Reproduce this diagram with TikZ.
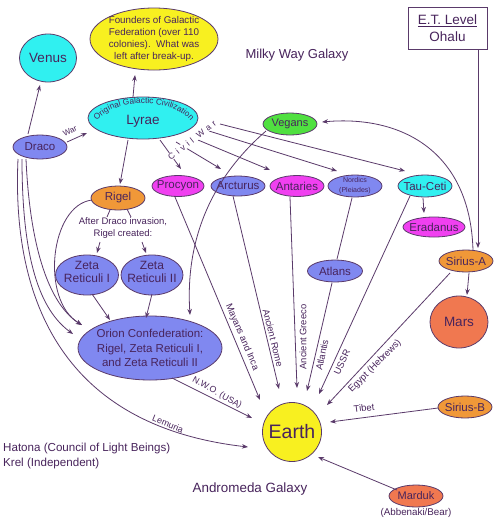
\documentclass[tikz,border=0pt]{standalone}
\usepackage{fontspec}
\setmainfont{Liberation Sans}
\usetikzlibrary{shapes.geometric,arrows.meta,calc,decorations.text}
\definecolor{txt}{RGB}{72,36,92}
\definecolor{edg}{RGB}{90,58,106}
\definecolor{cyanc}{RGB}{48,240,240}
\definecolor{yelc}{RGB}{248,240,32}
\definecolor{bluec}{RGB}{128,136,240}
\definecolor{magc}{RGB}{240,64,240}
\definecolor{greenc}{RGB}{80,224,64}
\definecolor{orangec}{RGB}{240,152,56}
\definecolor{marsc}{RGB}{240,120,80}
\begin{document}
\begin{tikzpicture}[x=1pt,y=-1pt,
  oval/.style={ellipse, draw=edg, line width=0.8pt, inner sep=0pt},
  nm/.style={text=txt, font=\fontsize{11.5}{13.5}\selectfont, align=center, inner sep=0pt},
  conn/.style={draw=edg, line width=0.8pt, -{Stealth[length=6pt,width=4.5pt]}},
  plainln/.style={draw=edg, line width=0.8pt},
  elbl/.style={text=txt, font=\fontsize{9.4}{10}\selectfont, inner sep=0pt},
  free/.style={text=txt, inner sep=0pt}]
\useasboundingbox (0,0) rectangle (500,523);
\fill[white] (0,0) rectangle (500,523);

% ---------- nodes ----------
\node[oval, fill=yelc, minimum width=128pt, minimum height=62pt,
  label={[nm, font=\fontsize{9.8}{12}\selectfont]center:{Founders of Galactic\\Federation (over 110\\colonies).~~What was\\left after break-up.}}] (founders) at (154,39) {};
\node[oval, fill=cyanc, minimum width=57pt, minimum height=48pt,
  label={[nm, font=\fontsize{13.5}{15}\selectfont]center:Venus}] (venus) at (48,58) {};
\node[free, font=\fontsize{13}{15}\selectfont] (milky) at (297,55) {Milky Way Galaxy};
\node[draw=edg, line width=0.8pt, minimum width=79pt, minimum height=42pt, inner sep=0pt,
  text=txt, align=center, font=\fontsize{13.5}{17}\selectfont] (et) at (447.5,28) {\underline{E.T. Level}\\Ohalu};
\node[oval, fill=cyanc, minimum width=110pt, minimum height=42pt,
  label={[nm, font=\fontsize{13.5}{15}\selectfont, yshift=-3pt]center:Lyrae}] (lyrae) at (143,118) {};
\node[oval, fill=bluec, minimum width=54pt, minimum height=24pt,
  label={[nm]center:Draco}] (draco) at (40,147) {};
\node[oval, fill=greenc, minimum width=54pt, minimum height=22pt,
  label={[nm, font=\fontsize{11}{13}\selectfont]center:Vegans}] (vegans) at (290,124) {};
\node[oval, fill=orangec, minimum width=54pt, minimum height=24pt,
  label={[nm]center:Rigel}] (rigel) at (118,198) {};
\node[oval, fill=magc, minimum width=52pt, minimum height=21pt,
  label={[nm]center:Procyon}] (procyon) at (178,186) {};
\node[oval, fill=bluec, minimum width=54pt, minimum height=20pt,
  label={[nm]center:Arcturus}] (arcturus) at (238,186) {};
\node[oval, fill=magc, minimum width=54pt, minimum height=21pt,
  label={[nm]center:Antaries}] (antaries) at (297,186) {};
\node[oval, fill=bluec, minimum width=54pt, minimum height=22pt,
  label={[nm, font=\fontsize{7}{10}\selectfont]center:{Nordics\\(Pleiades)}}] (nordics) at (355,186) {};
\node[oval, fill=cyanc, minimum width=54pt, minimum height=22pt,
  label={[nm]center:Tau-Ceti}] (tauceti) at (425,186) {};
\node[oval, fill=magc, minimum width=62pt, minimum height=20pt,
  label={[nm]center:Eradanus}] (eradanus) at (434,227) {};
\node[oval, fill=orangec, minimum width=54pt, minimum height=22pt,
  label={[nm]center:Sirius-A}] (siriusA) at (466,261) {};
\node[oval, fill=marsc, minimum width=58pt, minimum height=52pt,
  label={[nm, font=\fontsize{13.5}{15}\selectfont]center:Mars}] (mars) at (459,322) {};
\node[oval, fill=bluec, minimum width=55pt, minimum height=22pt,
  label={[nm]center:Atlans}] (atlans) at (335,271) {};
\node[free, align=center, font=\fontsize{9.5}{12}\selectfont] (after) at (123,228) {After Draco invasion,\\Rigel created:};
\node[oval, fill=bluec, minimum width=63pt, minimum height=40pt,
  label={[nm, font=\fontsize{12}{13.5}\selectfont, yshift=3pt]center:{Zeta\\Reticuli I}}] (zeta1) at (87,275) {};
\node[oval, fill=bluec, minimum width=62pt, minimum height=40pt,
  label={[nm, font=\fontsize{12}{13.5}\selectfont, yshift=3pt]center:{Zeta\\Reticuli II}}] (zeta2) at (152,275) {};
\node[oval, fill=bluec, minimum width=144pt, minimum height=64pt,
  label={[nm, font=\fontsize{11.5}{14.5}\selectfont]center:{Orion Confederation:\\Rigel, Zeta Reticuli I,\\and Zeta Reticuli II}}] (orion) at (150,348) {};
\node[circle, draw=edg, line width=0.8pt, fill=yelc, minimum size=59pt, inner sep=0pt,
  label={[nm, font=\fontsize{19.5}{22}\selectfont]center:Earth}] (earth) at (292,432) {};
\node[oval, fill=orangec, minimum width=54pt, minimum height=22pt,
  label={[nm]center:Sirius-B}] (siriusB) at (465,407) {};
\node[oval, fill=marsc, minimum width=54pt, minimum height=22pt,
  label={[nm, font=\fontsize{11}{13}\selectfont]center:Marduk}] (marduk) at (416,496) {};
\node[free, font=\fontsize{9.8}{12}\selectfont] (abbenaki) at (416,513) {(Abbenaki/Bear)};
\node[free, anchor=west, align=left, font=\fontsize{11.6}{15}\selectfont] (hatona) at (3,455.5) {Hatona (Council of Light Beings)\\Krel (Independent)};
\node[free, font=\fontsize{13.4}{15}\selectfont] (andromeda) at (250,489) {Andromeda Galaxy};

% curved text on Lyrae
\path[decorate, decoration={text along path, text align=center, text color=txt,
  text={|\fontsize{8.3}{10}\selectfont|Original Galactic Civilization}}]
  ($(lyrae)+(-47,5)$) .. controls ($(lyrae)+(-33,-21)$) and ($(lyrae)+(33,-21)$) .. ($(lyrae)+(49,5)$);

% ---------- connectors ----------
\draw[conn] ($(lyrae)+(-10,-21)$) -- ($(founders)+(-19,36)$);
\draw[conn] ($(draco)+(-12,-13)$) -- ($(venus)+(-8,27)$);
\draw[conn] ($(draco)+(27,-5)$) -- ($(lyrae)+(-56,15)$);
\draw[conn] ($(lyrae)+(-15,22)$) -- ($(rigel)+(2,-14)$);
% civil war
\draw[conn] ($(lyrae)+(17,22)$) -- ($(procyon)+(3,-17)$);
\draw[conn] ($(lyrae)+(33,24)$) -- ($(arcturus)+(-17,-17)$);
\draw[conn] ($(lyrae)+(55,22)$) -- ($(antaries)+(-27,-16)$);
\draw[conn] ($(lyrae)+(66,13)$) -- ($(nordics)+(-18,-15)$);
\draw[conn] ($(lyrae)+(77,6)$) -- ($(tauceti)+(-20,-15)$);
% vegans & sirius
\draw[conn] ($(vegans)+(-24,7)$) .. controls (215,175) and (185,235) .. ($(orion)+(40,-33)$);
\draw[conn] ($(siriusA)+(7,-11)$) .. controls (470,150) and (400,115) .. ($(vegans)+(32,-2)$);
\draw[conn] ($(et)+(30.5,21)$) -- ($(siriusA)+(12,-13)$);
\draw[conn] ($(tauceti)+(-2,12)$) -- ($(eradanus)+(-10,-14)$);
\draw[conn] ($(siriusA)+(3,12)$) -- ($(mars)+(8,-27)$);
% to earth
\draw[conn] ($(siriusA)+(-16,12)$) -- ($(earth)+(35,-27)$);
\draw[conn] ($(tauceti)+(-15,10)$) -- ($(earth)+(27,-38)$);
\draw[conn] ($(atlans)+(-3,12)$) -- ($(earth)+(15,-41)$);
\draw[plainln] ($(nordics)+(-3,12)$) -- ($(atlans)+(2,-12)$);
\draw[conn] ($(antaries)+(-7,11)$) -- ($(earth)+(5,-44)$);
\draw[conn] ($(arcturus)+(-5,10)$) -- ($(earth)+(-13,-43)$);
\draw[conn] ($(procyon)+(-3,11)$) -- ($(earth)+(-32,-32)$);
\draw[conn] ($(orion)+(22,30)$) -- ($(earth)+(-40,-14)$);
\draw[conn] ($(siriusB)+(-27,1)$) -- ($(earth)+(38,-10)$);
\draw[conn] ($(marduk)+(-19,-6)$) -- ($(earth)+(26,25)$);
\draw[conn] ($(draco)+(-22,12)$) .. controls (12,290) and (55,425) .. ($(earth)+(-44,15)$);
% draco / rigel to orion
\draw[conn] ($(draco)+(-18,12)$) .. controls (22,260) and (40,310) .. ($(orion)+(-77,-14)$);
\draw[conn] ($(draco)+(-14,12)$) .. controls (30,250) and (50,305) .. ($(orion)+(-68,-23)$);
\draw[conn] ($(rigel)+(-26,2)$) .. controls (50,205) and (40,300) .. ($(orion)+(-68,-23)$);
% rigel created zetas
\draw[plainln] ($(rigel)+(-8,12)$) -- ($(after)+(-16,-11)$);
\draw[plainln] ($(rigel)+(9,11)$) -- ($(after)+(8,-11)$);
\draw[conn] ($(after)+(-23,14)$) -- ($(zeta1)+(10,-22)$);
\draw[conn] ($(after)+(19,14)$) -- ($(zeta2)+(-6,-22)$);
\draw[conn] ($(zeta1)+(5,19)$) -- ($(orion)+(-40,-28)$);
\draw[conn] ($(zeta2)+(0,19)$) -- ($(orion)+(-4,-30)$);

% ---------- connector labels ----------
\node[elbl, font=\fontsize{8}{9}\selectfont, rotate=25] (lwar) at (70,131) {War};
\node[elbl, font=\fontsize{8.6}{9}\selectfont\addfontfeature{LetterSpace=40}, rotate=38, fill=white, inner sep=0.5pt] (lcivil) at (192,140) {Civil War};
\node[elbl, rotate=-67] (lmayan) at (242,337) {Mayans and Inca};
\node[elbl, rotate=-76] (lrome) at (273,338) {Ancient Rome};
\node[elbl, rotate=90] (lgreeco) at (303,337) {Ancient Greeco};
\node[elbl, rotate=78] (latlantis) at (322,355) {Atlantis};
\node[elbl, rotate=65] (lussr) at (342,362) {USSR};
\node[elbl, rotate=45] (legypt) at (375,366) {Egypt (Hebrews)};
\node[elbl, rotate=7] (ltibet) at (364,408) {Tibet};
\node[elbl, font=\fontsize{8.8}{10}\selectfont, rotate=-29] (lnwo) at (217,393) {N.W.O. (USA)};
\node[elbl, font=\fontsize{9}{10}\selectfont, rotate=-22] (llemuria) at (168,424) {Lemuria};
\end{tikzpicture}
\end{document}
